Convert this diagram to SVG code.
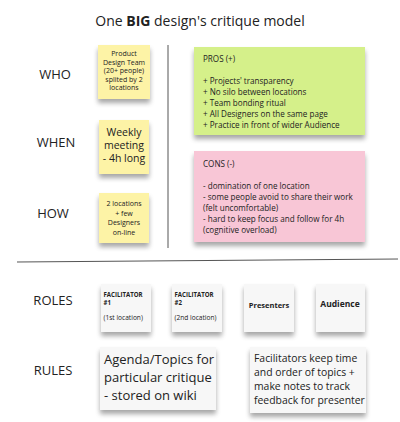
<svg xmlns="http://www.w3.org/2000/svg" width="400" height="422" viewBox="0 0 400 422">
<defs>
<filter id="sh" x="-20%" y="-20%" width="140%" height="150%">
<feGaussianBlur in="SourceAlpha" stdDeviation="2.5"/>
<feOffset dx="0" dy="4" result="b"/>
<feComponentTransfer><feFuncA type="linear" slope="0.35"/></feComponentTransfer>
<feMerge><feMergeNode/><feMergeNode in="SourceGraphic"/></feMerge>
</filter>
</defs>
<style>
text{font-family:"Open Sans","Noto Sans","Liberation Sans",sans-serif;fill:#222}
.lbl{font-size:13px;text-anchor:middle}
.y{fill:#fdf3a6}
.g{fill:#d5f08a}
.p{fill:#f8c6d6}
.w{fill:#f7f7f7}
.s{font-size:7px;text-anchor:middle}
.m{font-size:10.5px;text-anchor:middle}
.t{font-size:8.1px}
.f{font-size:6.1px}
.fl{font-size:6.6px}
.b{font-weight:bold}
.r{font-size:13px}
.r2{font-size:10.4px}
.ln{stroke:#555;stroke-width:1;fill:none}
</style>
<rect width="400" height="422" fill="#fff"/>
<text x="200" y="26" font-size="14" text-anchor="middle">One <tspan font-weight="bold">BIG</tspan> design's critique model</text>

<g id="labels">
<text class="lbl" x="55" y="79">WHO</text>
<text class="lbl" x="56" y="147">WHEN</text>
<text class="lbl" x="53" y="218">HOW</text>
<text class="lbl" x="53" y="305">ROLES</text>
<text class="lbl" x="53" y="375">RULES</text>
</g>

<g id="connectors">
<line class="ln" x1="168" y1="45" x2="168" y2="248"/>
<line class="ln" x1="17" y1="262" x2="398" y2="259"/>
</g>

<g id="who">
<rect class="y" x="98" y="45" width="52" height="54" filter="url(#sh)"/>
<text class="s" x="124" y="56">Product</text>
<text class="s" x="124" y="64.5">Design Team</text>
<text class="s" x="124" y="73">(20+ people)</text>
<text class="s" x="124" y="81.5">splited by 2</text>
<text class="s" x="124" y="90">locations</text>
</g>
<g id="when">
<rect class="y" x="99" y="120" width="50" height="54" filter="url(#sh)"/>
<text class="m" x="124" y="136">Weekly</text>
<text class="m" x="124" y="149">meeting</text>
<text class="m" x="124" y="162">- 4h long</text>
</g>
<g id="how">
<rect class="y" x="99" y="193" width="50" height="50" filter="url(#sh)"/>
<text class="s" x="124" y="206" font-size="8.5">2 locations</text>
<text class="s" x="124" y="215.5" font-size="8.5">+ few</text>
<text class="s" x="124" y="225" font-size="8.5">Designers</text>
<text class="s" x="124" y="234.5" font-size="8.5">on-line</text>
</g>
<g id="pros">
<rect class="g" x="194" y="47" width="171" height="88" filter="url(#sh)"/>
<text class="t" x="203" y="62">PROS (+)</text>
<text class="t" x="203" y="84">+ Projects' transparency</text>
<text class="t" x="203" y="95">+ No silo between locations</text>
<text class="t" x="203" y="106">+ Team bonding ritual</text>
<text class="t" x="203" y="117">+ All Designers on the same page</text>
<text class="t" x="203" y="128">+ Practice in front of wider Audience</text>
</g>
<g id="cons">
<rect class="p" x="194" y="151" width="171" height="91" filter="url(#sh)"/>
<text class="t" x="203" y="167">CONS (-)</text>
<text class="t" x="203" y="189">- domination of one location</text>
<text class="t" x="203" y="200">- some people avoid to share their work</text>
<text class="t" x="203" y="211">(felt uncomfortable)</text>
<text class="t" x="203" y="222">- hard to keep focus and follow for 4h</text>
<text class="t" x="203" y="233">(cognitive overload)</text>
</g>
<g id="fac1">
<rect class="w" x="101" y="284" width="50" height="48" filter="url(#sh)"/>
<text class="f b" x="103.5" y="297">FACILITATOR</text>
<text class="f b" x="103.5" y="305">#1</text>
<text class="fl" x="103.5" y="320">(1st location)</text>
</g>
<g id="fac2">
<rect class="w" x="172" y="284" width="50" height="48" filter="url(#sh)"/>
<text class="f b" x="174.5" y="297">FACILITATOR</text>
<text class="f b" x="174.5" y="305">#2</text>
<text class="fl" x="174.5" y="320">(2nd location)</text>
</g>
<g id="presenters">
<rect class="w" x="244" y="284" width="50" height="48" filter="url(#sh)"/>
<text class="b" x="269" y="308" font-size="7.5" text-anchor="middle">Presenters</text>
</g>
<g id="audience">
<rect class="w" x="316" y="284" width="49" height="48" filter="url(#sh)"/>
<text class="b" x="340" y="307" font-size="8.5" text-anchor="middle">Audience</text>
</g>
<g id="rule1">
<rect class="w" x="100" y="347" width="116" height="63" filter="url(#sh)"/>
<text class="r" x="104" y="364">Agenda/Topics for</text>
<text class="r" x="104" y="382">particular critique</text>
<text class="r" x="104" y="400">- stored on wiki</text>
</g>
<g id="rule2">
<rect class="w" x="250" y="347" width="116" height="66" filter="url(#sh)"/>
<text class="r2" x="254" y="362">Facilitators keep time</text>
<text class="r2" x="254" y="376">and order of topics +</text>
<text class="r2" x="254" y="390">make notes to track</text>
<text class="r2" x="254" y="404">feedback for presenter</text>
</g>
</svg>
